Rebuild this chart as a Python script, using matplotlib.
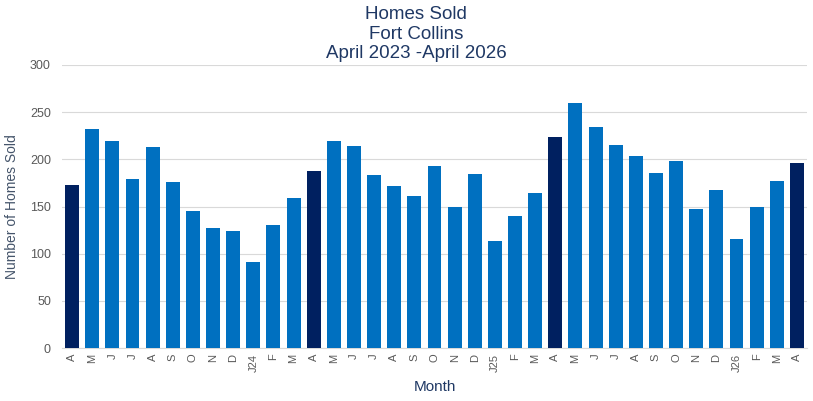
import matplotlib
matplotlib.use("Agg")
import matplotlib.pyplot as plt

# monthly homes sold, April 2023 - April 2026
months = ["A", "M", "J", "J", "A", "S", "O", "N", "D", "J24", "F", "M",
          "A", "M", "J", "J", "A", "S", "O", "N", "D", "J25", "F", "M",
          "A", "M", "J", "J", "A", "S", "O", "N", "D", "J26", "F", "M",
          "A"]
sold = [173, 232, 219, 179, 213, 176, 145, 127, 124, 91, 130, 159,
        188, 219, 214, 183, 172, 161, 193, 149, 184, 113, 140, 164,
        224, 260, 234, 215, 204, 185, 198, 147, 167, 116, 150, 177,
        196]

plt.rcParams["font.family"] = ["Liberation Sans", "DejaVu Sans"]

# Aprils are highlighted in dark navy
colors = ["#002060" if i % 12 == 0 else "#0070C0" for i in range(len(sold))]

fig = plt.figure(figsize=(8.13, 4.01), dpi=100)
ax = fig.add_axes([0.0763, 0.132, 0.9163, 0.706])
x = list(range(len(sold)))
ax.bar(x, sold, width=0.69, color=colors, zorder=3)

ax.set_xlim(-0.5, len(sold) - 0.5)
ax.set_ylim(0, 300)
ax.set_yticks(range(0, 301, 50))
ax.set_xticks(x)
ax.set_xticklabels(months, rotation=90, fontsize=8, color="#595959")
ax.tick_params(axis="y", labelsize=9, colors="#595959", length=0, pad=8)
ax.tick_params(axis="x", length=0, pad=4)
ax.grid(axis="y", color="#D9D9D9", lw=0.8, zorder=0)
for s in ["top", "right", "left"]:
    ax.spines[s].set_visible(False)
ax.spines["bottom"].set_color("#D9D9D9")

ax.set_ylabel("Number of Homes Sold", fontsize=10, color="#44546A", labelpad=8)
ax.set_xlabel("Month", fontsize=11, color="#1F3864", labelpad=6)

fig.text(0.512, 0.985, "Homes Sold\nFort Collins\nApril 2023 -April 2026",
         ha="center", va="top", fontsize=13.5, color="#1F3864", linespacing=1.2)

fig.savefig("out.png", dpi=100)
